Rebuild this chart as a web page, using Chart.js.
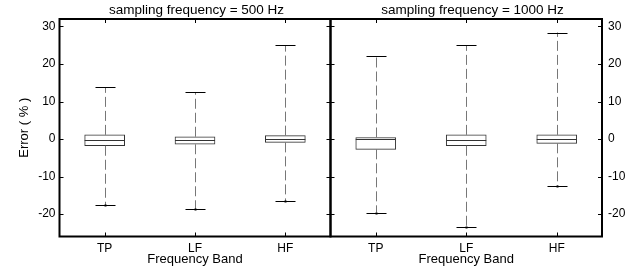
<!DOCTYPE html>
<html>
<head>
<meta charset="utf-8">
<script src="https://cdn.jsdelivr.net/npm/chart.js@4"></script>
<style>
  body { margin: 0; background: #fff; }
  #wrap { position: relative; width: 637px; height: 273px; }
  canvas { position: absolute; top: 0; }
</style>
</head>
<body>
<div id="wrap">
  <canvas id="c500" width="393" height="273" style="left:0"></canvas>
  <canvas id="c1000" width="329" height="273" style="left:308px"></canvas>
</div>
<script>
const bands = ['TP', 'LF', 'HF'];
const yTicks = [-20, -10, 0, 10, 20, 30];

// sampling frequency = 500 Hz
const lo500  = [-17.7, -18.7, -16.6];
const q1_500 = [-1.8, -1.4, -0.9];
const med500 = [-0.2, -0.3, 0.1];
const q3_500 = [1.1, 0.6, 0.9];
const hi500  = [13.8, 12.5, 25.0];

// sampling frequency = 1000 Hz
const lo1000  = [-19.6, -23.4, -12.5];
const q1_1000 = [-2.75, -1.8, -1.15];
const med1000 = [0.1, -0.2, 0.0];
const q3_1000 = [0.4, 1.1, 1.1];
const hi1000  = [22.2, 25.0, 28.4];

Chart.defaults.font.family = "'Liberation Sans', Arial, sans-serif";
Chart.defaults.color = '#000';

// whiskers, caps and medians on top of the floating bars
const boxPlot = {
  id: 'boxPlot',
  afterDatasetsDraw(chart, args, opts) {
    const {ctx} = chart;
    const x = chart.scales.x, y = chart.scales.y;
    const bars = chart.getDatasetMeta(0).data;
    ctx.save();
    ctx.lineWidth = 1;
    bands.forEach((b, i) => {
      const cx = Math.round(x.getPixelForValue(i)) + 0.5;
      const half = bars[i].width / 2;
      const capHalf = 10;
      ctx.strokeStyle = '#777';
      ctx.setLineDash([10, 4]);
      ctx.beginPath();
      ctx.moveTo(cx, y.getPixelForValue(opts.q3[i]));
      ctx.lineTo(cx, y.getPixelForValue(opts.hi[i]));
      ctx.moveTo(cx, y.getPixelForValue(opts.q1[i]));
      ctx.lineTo(cx, y.getPixelForValue(opts.lo[i]));
      ctx.stroke();
      ctx.setLineDash([]);
      ctx.strokeStyle = '#000';
      [opts.hi[i], opts.lo[i]].forEach(v => {
        const py = Math.round(y.getPixelForValue(v)) + 0.5;
        ctx.beginPath();
        ctx.moveTo(cx - capHalf, py);
        ctx.lineTo(cx + capHalf, py);
        ctx.stroke();
      });
      ctx.strokeStyle = '#333';
      const my = Math.round(y.getPixelForValue(opts.med[i])) + 0.5;
      ctx.beginPath();
      ctx.moveTo(bars[i].x - half, my);
      ctx.lineTo(bars[i].x + half, my);
      ctx.stroke();
      ctx.fillStyle = '#000';
      ctx.fillRect(cx - 1, Math.round(y.getPixelForValue(opts.lo[i])) - 0.5, 2, 2);
    });
    ctx.restore();
  }
};

// box frame with inward tick marks
const frame = {
  id: 'frame',
  afterDraw(chart) {
    const {ctx, chartArea: a} = chart;
    const x = chart.scales.x, y = chart.scales.y;
    ctx.save();
    ctx.strokeStyle = '#000';
    ctx.lineWidth = 1;
    ctx.beginPath();
    y.ticks.forEach(t => {
      const py = Math.round(y.getPixelForValue(t.value)) + 0.5;
      ctx.moveTo(a.left, py); ctx.lineTo(a.left + 4, py);
      ctx.moveTo(a.right - 4, py); ctx.lineTo(a.right, py);
    });
    bands.forEach((b, i) => {
      const px = Math.round(x.getPixelForValue(i)) + 0.5;
      ctx.moveTo(px, a.top); ctx.lineTo(px, a.top + 4);
      ctx.moveTo(px, a.bottom); ctx.lineTo(px, a.bottom - 4);
    });
    ctx.stroke();
    ctx.lineWidth = 2;
    ctx.strokeRect(a.left, a.top, a.right - a.left, a.bottom - a.top);
    ctx.restore();
  }
};

function makePanel(id, title, lo, q1, med, q3, hi, side) {
  const left = side === 'left';
  return new Chart(document.getElementById(id), {
    type: 'bar',
    data: {
      labels: bands,
      datasets: [{
        data: q1.map((v, i) => [v, q3[i]]),
        backgroundColor: '#fff',
        borderColor: '#333',
        borderWidth: 1,
        borderSkipped: false,
        barThickness: 40
      }]
    },
    options: {
      responsive: false,
      animation: false,
      plugins: {
        legend: { display: false },
        tooltip: { enabled: false },
        title: {
          display: true,
          text: title,
          font: { size: 13.5, weight: 'normal' },
          padding: { top: 2, bottom: 0.8 }
        },
        boxPlot: { lo, q1, med, q3, hi }
      },
      scales: {
        x: {
          grid: { display: false, drawTicks: false },
          border: { display: false },
          ticks: { padding: 5, font: { size: 12 } },
          afterFit: s => { s.height = 36.5; },
          title: {
            display: true,
            text: 'Frequency Band',
            font: { size: 13 },
            padding: { top: 0, bottom: 5.7 }
          }
        },
        y: {
          position: side,
          min: -26,
          max: 32,
          afterBuildTicks: s => { s.ticks = yTicks.map(v => ({ value: v })); },
          afterFit: s => { s.width = left ? 59.5 : 35; },
          grid: { display: false, drawTicks: false },
          border: { display: false },
          ticks: { padding: left ? 4 : 6, font: { size: 12 } },
          title: {
            display: left,
            text: 'Error ( % )',
            font: { size: 13 },
            padding: { top: 17, bottom: 0 }
          }
        },
        // empty spacer axis on the far side, so the title stays centred
        pad: {
          type: 'linear',
          position: left ? 'right' : 'left',
          grid: { display: false, drawTicks: false },
          border: { display: false },
          ticks: { display: false },
          afterFit: s => { s.width = left ? 62.5 : 22.5; }
        }
      }
    },
    plugins: [boxPlot, frame]
  });
}

makePanel('c500', 'sampling frequency = 500 Hz', lo500, q1_500, med500, q3_500, hi500, 'left');
makePanel('c1000', 'sampling frequency = 1000 Hz', lo1000, q1_1000, med1000, q3_1000, hi1000, 'right');
</script>
</body>
</html>
